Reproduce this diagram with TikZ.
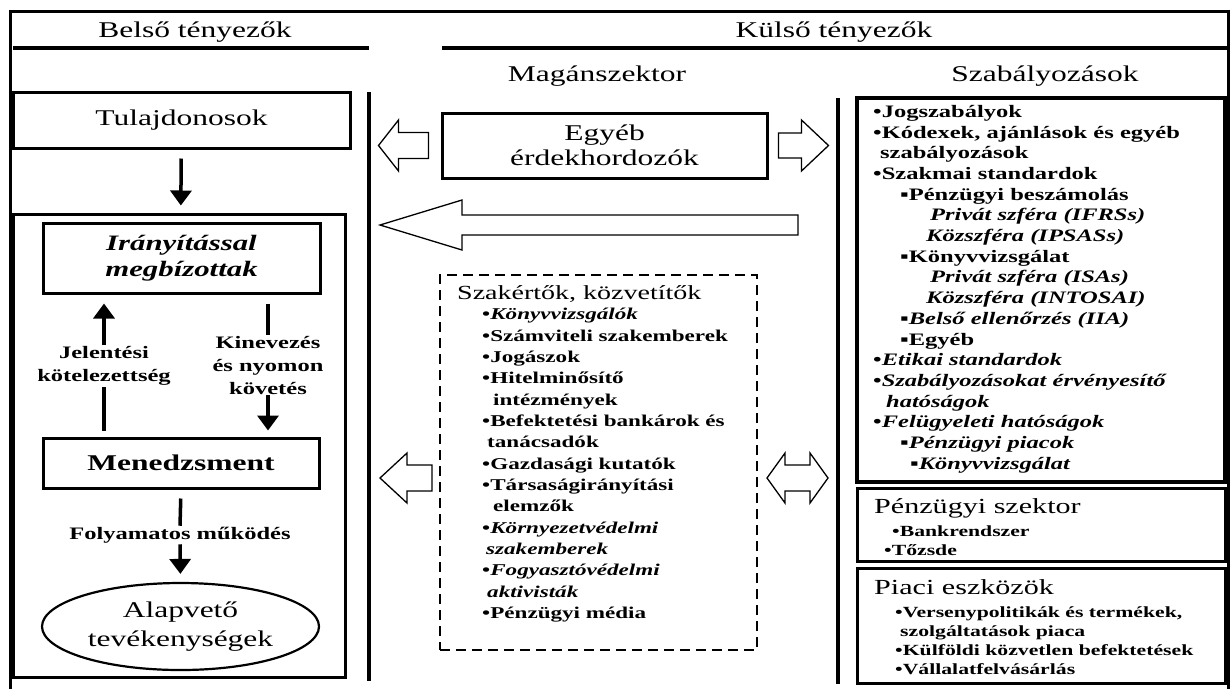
\documentclass[tikz,border=0pt]{standalone}
\usepackage{fontspec}
\setmainfont{Liberation Serif}[FakeStretch=1.4]
\usetikzlibrary{arrows.meta,calc,positioning,shapes.geometric}
\tikzset{>={Triangle[length=15pt,width=21pt]}}
\tikzstyle{frame}=[line width=3]
\tikzstyle{heavy}=[line width=4]
\tikzstyle{box}=[draw,rectangle,line width=3,inner sep=0,align=center]
\tikzstyle{flow}=[line width=3.5]
\tikzstyle{hollow}=[draw,fill=white,line width=1.3,line join=miter]
\tikzstyle{head}=[inner sep=0,font=\fontsize{22.5}{27}\selectfont]
\tikzstyle{label}=[inner sep=1,align=center,font=\bfseries\fontsize{17.5}{23}\selectfont]
\tikzstyle{list}=[inner sep=0,align=left,anchor=north west,font=\bfseries\fontsize{17.5}{20.7}\selectfont]

\begin{document}
\begin{tikzpicture}[x=1pt,y=-1pt]
  \useasboundingbox (0,0) rectangle (1230,689);

  % FRAME AND HEADINGS
  \draw[frame] (10,689) -- (10,11) -- (1228,11) -- (1228,689);
  \node[head] (belso) at (195,32) {Belső tényezők};
  \node[head] (kulso) at (834,32) {Külső tényezők};
  \draw[heavy] (13,48) -- (369,48);
  \draw[heavy] (442,48) -- (1228,48);
  \node[head] (magan) at (597,76) {Magánszektor};
  \node[head] (szabfej) at (1045,76) {Szabályozások};
  \draw[heavy] (369,92) -- (369,681);
  \draw[heavy] (838,98) -- (838,684);

  % INTERNAL FACTORS
  \node[box,head,minimum width=337,minimum height=56] (tulaj) at (181.5,120) {Tulajdonosok};
  \node[box,minimum width=332,minimum height=463] (belsobox) at (179,445.5) {};
  \node[box,minimum width=277,minimum height=70,
        font=\bfseries\itshape\fontsize{22}{26}\selectfont] (iranyit) at (181.5,258)
        {Irányítással\\megbízottak};
  \node[box,minimum width=276,minimum height=50,
        font=\bfseries\fontsize{22.5}{27}\selectfont] (menedzs) at (181,463) {Menedzsment};
  \node[ellipse,draw,line width=2.2,minimum width=277,minimum height=87,inner sep=0,
        align=center,font=\fontsize{22.5}{29}\selectfont] (alap) at (180.5,626.5)
        {Alapvető\\tevékenységek};
  \draw[flow,->,shorten <=9pt,shorten >=7pt] (tulaj) -- (belsobox);

  \node[label] (jelent) at (104,366) {Jelentési\\kötelezettség};
  \draw[flow,->,shorten >=9pt] (jelent.north) -- (iranyit.south -| jelent);
  \draw[flow,shorten <=6pt] (menedzs.north -| jelent) -- (jelent.south);

  \node[label] (kinev) at (268,365) {Kinevezés\\és nyomon\\követés};
  \draw[flow,shorten <=9pt] (iranyit.south -| kinev) -- (kinev.north);
  \draw[flow,->,shorten >=6pt] (kinev.south) -- (menedzs.north -| kinev);

  \node[label] (folyam) at (180,535) {Folyamatos működés};
  \draw[flow,shorten <=9pt] (menedzs.south) -- (folyam.north);
  \draw[flow,->,shorten >=8pt] (folyam.south) -- (alap.north);

  % PRIVATE SECTOR
  \node[box,head,minimum width=325,minimum height=65,font=\fontsize{22.5}{25}\selectfont]
        (egyeb) at (604.5,145.5) {Egyéb\\érdekhordozók};
  \draw[hollow] ([xshift=-12pt]egyeb.west) ++(0,-13) -- ++(-30,0) -- ++(0,-12.5)
        -- ++(-20,25.5) -- ++(20,25.5) -- ++(0,-12.5) -- ++(30,0) -- cycle;
  \draw[hollow] ([xshift=10pt]egyeb.east) ++(0,-12.5) -- ++(23,0) -- ++(0,-13)
        -- ++(27,25.5) -- ++(-27,25.5) -- ++(0,-13) -- ++(-23,0) -- cycle;

  \coordinate (nagytail) at (798,225);
  \draw[hollow] (nagytail) ++(0,-10) -- ++(-336,0) -- ++(0,-15) -- ++(-82,25)
        -- ++(82,25) -- ++(0,-15) -- ++(336,0) -- cycle;

  \node[draw,rectangle,line width=2.5,dash pattern=on 10pt off 6pt,
        minimum width=317,minimum height=375] (szakert) at (598.5,462.5) {};
  \node[inner sep=0,anchor=base west,font=\fontsize{20}{24}\selectfont] (szakfej)
        at (457,299) {Szakértők, közvetítők};
  \node[list,font=\bfseries\fontsize{16.5}{21.36}\selectfont] (szaklista) at (482,308)
        {•\textit{Könyvvizsgálók}\\
         •Számviteli szakemberek\\
         •Jogászok\\
         •Hitelminősítő\\
         \hspace*{11pt}intézmények\\
         •Befektetési bankárok és\\
         \hspace*{5pt}tanácsadók\\
         •Gazdasági kutatók\\
         •Társaságirányítási\\
         \hspace*{11pt}elemzők\\
         •\textit{Környezetvédelmi}\\
         \hspace*{4pt}\textit{szakemberek}\\
         •\textit{Fogyasztóvédelmi}\\
         \hspace*{5pt}\textit{aktivisták}\\
         •Pénzügyi média};

  \coordinate (balnyil) at (432,478);
  \draw[hollow] (balnyil) ++(0,-13) -- ++(-25,0) -- ++(0,-12) -- ++(-27,25)
        -- ++(27,25) -- ++(0,-12) -- ++(25,0) -- cycle;
  \coordinate (kettos) at (767,478);
  \draw[hollow] (kettos) -- ++(18,-25) -- ++(0,12) -- ++(25,0) -- ++(0,-12)
        -- ++(18,25) -- ++(-18,25) -- ++(0,-12) -- ++(-25,0) -- ++(0,12) -- cycle;

  % REGULATIONS
  \node[box,line width=3.5,minimum width=368,minimum height=384] (szab) at (1041,290) {};
  \node[list] (szablista) at (873,105)
        {•Jogszabályok\\
         •Kódexek, ajánlások és egyéb\\
         \hspace*{7pt}szabályozások\\
         •Szakmai standardok\\
         \hspace*{27pt}▪Pénzügyi beszámolás\\
         \hspace*{57pt}\textit{Privát szféra (IFRSs)}\\
         \hspace*{53pt}\textit{Közszféra (IPSASs)}\\
         \hspace*{27pt}▪Könyvvizsgálat\\
         \hspace*{57pt}\textit{Privát szféra (ISAs)}\\
         \hspace*{53pt}\textit{Közszféra (INTOSAI)}\\
         \hspace*{27pt}▪\textit{Belső ellenőrzés (IIA)}\\
         \hspace*{27pt}▪Egyéb\\
         •\textit{Etikai standardok}\\
         •\textit{Szabályozásokat érvényesítő}\\
         \hspace*{13pt}\textit{hatóságok}\\
         •\textit{Felügyeleti hatóságok}\\
         \hspace*{27pt}▪\textit{Pénzügyi piacok}\\
         \hspace*{37pt}▪\textit{Könyvvizsgálat}};

  \node[box,minimum width=368,minimum height=73] (penzugy) at (1041,524.5) {};
  \node[inner sep=0,anchor=base west,font=\fontsize{21.5}{25}\selectfont] (penzfej)
        at (874,513) {Pénzügyi szektor};
  \node[list,font=\bfseries\fontsize{15.5}{19}\selectfont] (penzlista) at (884,526)
        {\hspace*{8pt}•Bankrendszer\\
         •Tőzsde};

  \node[box,minimum width=368,minimum height=115] (piaci) at (1041,625.5) {};
  \node[inner sep=0,anchor=base west,font=\fontsize{21.5}{25}\selectfont] (piacfej)
        at (874,594) {Piaci eszközök};
  \node[list,font=\bfseries\fontsize{15.5}{18.7}\selectfont] (piaclista) at (895,607)
        {•Versenypolitikák és termékek,\\
         \hspace*{5pt}szolgáltatások piaca\\
         •Külföldi közvetlen befektetések\\
         •Vállalatfelvásárlás};
\end{tikzpicture}
\end{document}
